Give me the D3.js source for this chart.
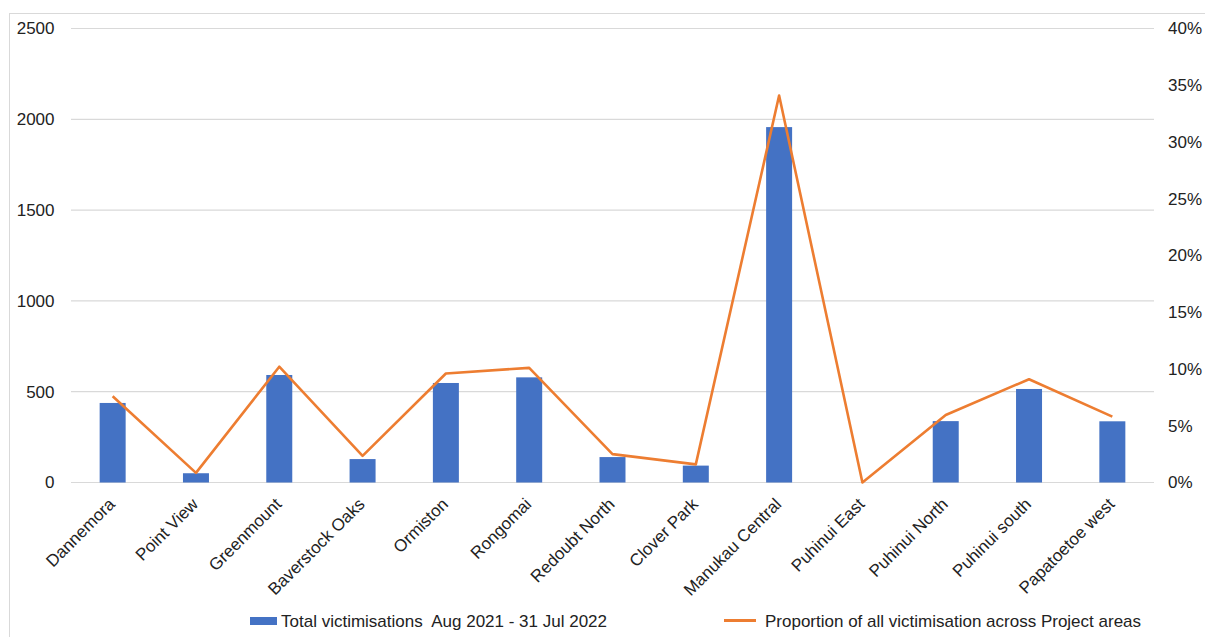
<!DOCTYPE html>
<html>
<head>
<meta charset="utf-8">
<script src="https://cdn.jsdelivr.net/npm/d3@7"></script>
<style>
  html, body { margin: 0; padding: 0; background: #fff; }
  svg { display: block; font-family: "Liberation Sans", Arial, sans-serif; }
  text { white-space: pre; }
</style>
</head>
<body>
<svg id="chart" width="1205" height="637"></svg>
<script>
const categories = ["Dannemora","Point View","Greenmount","Baverstock Oaks","Ormiston","Rongomai","Redoubt North","Clover Park","Manukau Central","Puhinui East","Puhinui North","Puhinui south","Papatoetoe west"];
const totals = [438, 51, 592, 129, 548, 579, 140, 93, 1957, 0, 338, 515, 337];
const proportions = [0.076, 0.0085, 0.102, 0.0235, 0.096, 0.101, 0.025, 0.016, 0.341, 0, 0.0595, 0.091, 0.058];
const leftTicks = [0, 500, 1000, 1500, 2000, 2500];
const rightTicks = [0, 0.05, 0.10, 0.15, 0.20, 0.25, 0.30, 0.35, 0.40];
const seriesNames = ["Total victimisations  Aug 2021 - 31 Jul 2022", "Proportion of all victimisation across Project areas"];

const svg = d3.select("#chart");
const plot = {left: 71, right: 1154, top: 28.5, bottom: 482.5};

// outer border
svg.append("rect").attr("x", 9.5).attr("y", 13.5).attr("width", 1300).attr("height", 700)
  .attr("fill", "none").attr("stroke", "#d9d9d9").attr("stroke-width", 1);

const x = d3.scaleBand().domain(categories).range([plot.left, plot.right]).paddingInner(0.688).paddingOuter(0.344);
const yL = d3.scaleLinear().domain([0, 2500]).range([plot.bottom, plot.top]);
const yR = d3.scaleLinear().domain([0, 0.4]).range([plot.bottom, plot.top]);

// gridlines
svg.append("g").selectAll("line").data(leftTicks).join("line")
  .attr("x1", plot.left).attr("x2", plot.right)
  .attr("y1", d => yL(d)).attr("y2", d => yL(d))
  .attr("stroke", "#d9d9d9").attr("stroke-width", 1.2);

// left axis labels
const axL = d3.axisLeft(yL).tickValues(leftTicks).tickSize(0).tickPadding(0).tickFormat(d3.format("d"));
const gL = svg.append("g").attr("transform", "translate(54.5,0)").call(axL);
gL.select(".domain").remove();
gL.selectAll("text").attr("font-size", 17).attr("fill", "#222").attr("font-family", "Liberation Sans, Arial, sans-serif");

// right axis labels
const axR = d3.axisRight(yR).tickValues(rightTicks).tickSize(0).tickPadding(0).tickFormat(d3.format(".0%"));
const gR = svg.append("g").attr("transform", "translate(1168,0)").call(axR);
gR.select(".domain").remove();
gR.selectAll("text").attr("font-size", 17).attr("fill", "#222").attr("font-family", "Liberation Sans, Arial, sans-serif");

// bars
svg.append("g").selectAll("rect").data(totals).join("rect")
  .attr("x", (d, i) => x(categories[i]))
  .attr("width", x.bandwidth())
  .attr("y", d => yL(d))
  .attr("height", d => yL(0) - yL(d))
  .attr("fill", "#4472C4");

// line
const line = d3.line()
  .x((d, i) => x(categories[i]) + x.bandwidth() / 2)
  .y(d => yR(d));
svg.append("path").datum(proportions).attr("d", line)
  .attr("fill", "none").attr("stroke", "#ED7D31").attr("stroke-width", 2.6).attr("stroke-linejoin", "round");

// x labels
svg.append("g").selectAll("text").data(categories).join("text")
  .attr("transform", d => `translate(${x(d) + x.bandwidth() / 2 - 1},${501}) rotate(-45)`)
  .attr("text-anchor", "end")
  .attr("dy", "0.35em")
  .attr("font-size", 17).attr("fill", "#222")
  .text(d => d);

// legend
const lg = svg.append("g");
lg.append("rect").attr("x", 250).attr("y", 617).attr("width", 27).attr("height", 8).attr("fill", "#4472C4");
lg.append("text").attr("x", 281).attr("y", 621).attr("dy", "0.35em").attr("font-size", 17).attr("fill", "#222").text(seriesNames[0]);
lg.append("line").attr("x1", 724).attr("x2", 756).attr("y1", 620.5).attr("y2", 620.5).attr("stroke", "#ED7D31").attr("stroke-width", 3);
lg.append("text").attr("x", 765).attr("y", 621).attr("dy", "0.35em").attr("font-size", 17).attr("fill", "#222").text(seriesNames[1]);
</script>
</body>
</html>
